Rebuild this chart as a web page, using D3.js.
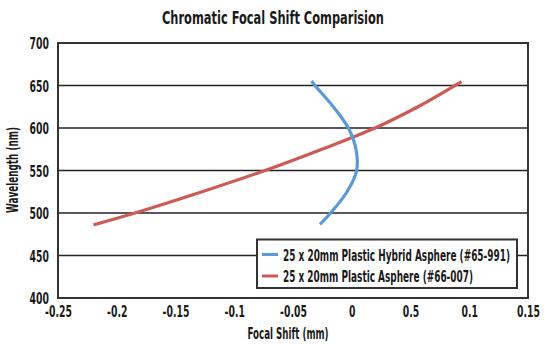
<!DOCTYPE html>
<html>
<head>
<meta charset="utf-8">
<script src="https://cdn.jsdelivr.net/npm/d3@7"></script>
<style>
html,body{margin:0;padding:0;background:#fff;}
svg text{font-family:"DejaVu Sans",sans-serif;font-weight:bold;fill:#1a1a1a;}
</style>
</head>
<body>
<svg id="c" width="550" height="346"></svg>
<script>
const title = "Chromatic Focal Shift Comparision";
const xLabel = "Focal Shift (mm)";
const yLabel = "Wavelength (nm)";
const xTickValues = [-0.25, -0.2, -0.15, -0.1, -0.05, 0, 0.05, 0.1, 0.15];
const xTickLabels = ["-0.25", "-0.2", "-0.15", "-0.1", "-0.05", "0", "0.5", "0.1", "0.15"];
const yTickValues = [400, 450, 500, 550, 600, 650, 700];
const seriesNames = ["25 x 20mm Plastic Hybrid Asphere (#65-991)", "25 x 20mm Plastic Asphere (#66-007)"];

// Hybrid asphere: [wavelength nm, focal shift mm]
const hybridWavelength = [486.7, 500, 525, 550, 575, 600, 625, 650, 655.3];
const hybridShift = [-0.027, -0.018, -0.004, 0.0042, 0.0036, -0.0029, -0.0157, -0.0313, -0.0342];
// Plastic asphere
const asphereWavelength = [486, 500, 525, 550, 575, 600, 625, 650, 654.5];
const asphereShift = [-0.2198, -0.1845, -0.1274, -0.0738, -0.0254, 0.0198, 0.0564, 0.0879, 0.0934];

const colors = ["#5b9bd5", "#cd5b55"];

const svg = d3.select("#c");
const m = {l:58, r:528, t:43, b:298};
const x = d3.scaleLinear().domain([-0.25, 0.15]).range([m.l, m.r]);
const y = d3.scaleLinear().domain([400, 700]).range([m.b, m.t]);

const squeeze = 0.58;
function condense(sel) {
  sel.each(function() {
    const w = this.getComputedTextLength();
    d3.select(this).attr("textLength", w * squeeze).attr("lengthAdjust", "spacingAndGlyphs");
  });
}
function fitTo(sel, w) {
  sel.attr("textLength", w).attr("lengthAdjust", "spacingAndGlyphs");
}

// gridlines
svg.append("g").selectAll("line").data(yTickValues.filter(v => v > 400 && v < 700)).join("line")
  .attr("x1", m.l).attr("x2", m.r).attr("y1", d => y(d)).attr("y2", d => y(d))
  .attr("stroke", "#222").attr("stroke-width", 1.6);

// frame
svg.append("rect").attr("x", m.l).attr("y", m.t).attr("width", m.r - m.l).attr("height", m.b - m.t)
  .attr("fill", "none").attr("stroke", "#333").attr("stroke-width", 2);

// axes (labels only)
const yAxis = d3.axisLeft(y).tickValues(yTickValues).tickSize(0).tickPadding(9);
const gy = svg.append("g").attr("transform", `translate(${m.l},0)`).call(yAxis);
gy.select(".domain").remove();
gy.attr("font-family", null).attr("font-size", null);
gy.selectAll("text").attr("font-size", 16).attr("dy", "0.36em").call(condense);

const xAxis = d3.axisBottom(x).tickValues(xTickValues).tickFormat((d, i) => xTickLabels[i]).tickSize(0).tickPadding(8);
const gx = svg.append("g").attr("transform", `translate(0,${m.b})`).call(xAxis);
gx.select(".domain").remove();
gx.attr("font-family", null).attr("font-size", null);
gx.selectAll("text").attr("font-size", 16).call(condense);

// lines
const line = d3.line().curve(d3.curveCatmullRom.alpha(0.5));
const hybridPts = hybridWavelength.map((w, i) => [x(hybridShift[i]), y(w)]);
const asphPts = asphereWavelength.map((w, i) => [x(asphereShift[i]), y(w)]);
svg.append("path").attr("d", line(asphPts)).attr("fill", "none").attr("stroke", colors[1]).attr("stroke-width", 3.2);
svg.append("path").attr("d", line(hybridPts)).attr("fill", "none").attr("stroke", colors[0]).attr("stroke-width", 3.2);

// legend
const lg = svg.append("g");
lg.append("rect").attr("x", 257).attr("y", 239.5).attr("width", 260).attr("height", 48.5)
  .attr("fill", "#fff").attr("stroke", "#333").attr("stroke-width", 2);
const legendWidths = [227, 190];
seriesNames.forEach((n, i) => {
  const yy = 254.5 + i * 21.5;
  lg.append("line").attr("x1", 262).attr("x2", 278).attr("y1", yy).attr("y2", yy)
    .attr("stroke", colors[i]).attr("stroke-width", 3);
  lg.append("text").attr("x", 283).attr("y", yy + 6).attr("font-size", 16).text(n).call(fitTo, legendWidths[i]);
});

// titles
svg.append("text").attr("x", 273).attr("y", 23.5).attr("text-anchor", "middle").attr("font-size", 18).text(title).call(fitTo, 222);
svg.append("text").attr("x", 288).attr("y", 338.5).attr("text-anchor", "middle").attr("font-size", 15).text(xLabel).call(fitTo, 81);
svg.append("text").attr("transform", "translate(17.5,170) rotate(-90)").attr("text-anchor", "middle").attr("font-size", 15).text(yLabel).call(fitTo, 86);
</script>
</body>
</html>
